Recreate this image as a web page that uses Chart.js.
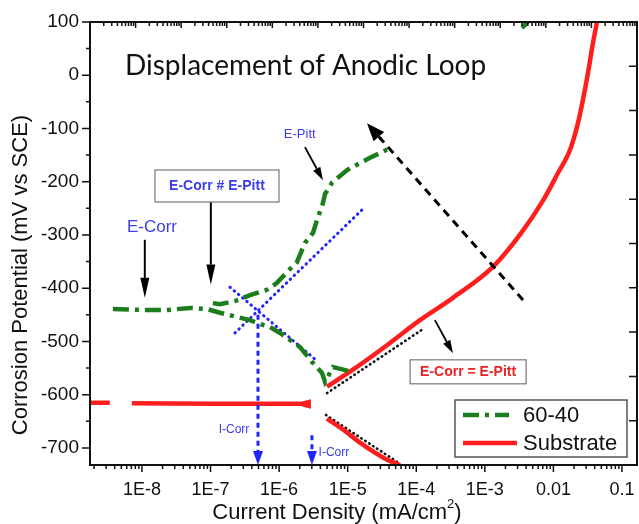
<!DOCTYPE html>
<html>
<head>
<meta charset="utf-8">
<script src="https://cdn.jsdelivr.net/npm/chart.js@4.4.0/dist/chart.umd.min.js"></script>
<style>
  html, body { margin: 0; padding: 0; background: #fff; }
  canvas { display: block; }
</style>
</head>
<body>
<canvas id="polChart" width="639" height="524"></canvas>
<script>
// current density in mA/cm2, potential in mV vs SCE
const alloyCathI = [3.77e-9, 1.1e-8, 2.3e-8, 5e-8, 8.9e-8, 1.37e-7, 3.76e-7, 5.8e-7, 7.4e-7, 1.03e-6, 2.0e-6, 3.0e-6, 4.22e-6, 4.67e-6, 6.1e-6, 1.16e-5];
const alloyCathE = [-439, -441, -441, -437, -439, -446, -460, -469, -473, -484, -510, -538, -559, -576, -548, -557];

const alloyAnodI = [1.08e-7, 1.37e-7, 2.27e-7, 3.76e-7, 6.65e-7, 9.3e-7, 1.54e-6, 1.82e-6, 2.38e-6, 3.12e-6, 3.56e-6, 4.36e-6, 4.67e-6, 5.9e-6, 9.8e-6, 1.51e-5, 2.11e-5, 3.74e-5, 4.43e-5, 1e-3, 3.48e-3, 4.26e-3];
const alloyAnodE = [-428, -430, -424, -413, -403, -390, -360, -351, -315, -296, -272, -240, -223, -202, -178, -165, -155, -140, -140, null, 89, 100];

const subCathFlatI = [1.75e-9, 3.4e-9, 5e-9, 7.1e-9, 1e-7, 1e-6, 2.2e-6, 2.7e-6, 2.7e-6, 2.2e-6];
const subCathFlatE = [-615, -615, null, -616, -617, -617, -617, -614, -621, -618];

const subAnodI = [4.99e-6, 1.19e-5, 3.74e-5, 1.13e-4, 3.43e-4, 1.31e-3, 3.4e-3, 7e-3, 1.15e-2, 1.75e-2, 2.28e-2, 2.7e-2, 3.19e-2, 3.78e-2, 4.32e-2];
const subAnodE = [-585, -553, -507, -460, -418, -360, -296, -236, -185, -140, -90, -46, 4, 61, 100];

const subCathLowI = [4.99e-6, 9.1e-6, 1.51e-5, 3.74e-5, 5.8e-5];
const subCathLowE = [-645, -668, -690, -722, -732];

// Tafel extrapolations
const tafelBlueAnodI = [2.27e-7, 1.67e-5];
const tafelBlueAnodE = [-484, -251];
const tafelBlueCathI = [1.92e-7, 3.69e-6];
const tafelBlueCathE = [-398, -538];
const tafelBlackAnodI = [4.99e-6, 1.21e-4];
const tafelBlackAnodE = [-597, -478];
const tafelBlackCathI = [4.82e-6, 5.24e-5];
const tafelBlackCathE = [-638, -726];

const xTicks = [1e-8, 1e-7, 1e-6, 1e-5, 1e-4, 1e-3, 0.01, 0.1];
const xTickLabels = ['1E-8', '1E-7', '1E-6', '1E-5', '1E-4', '1E-3', '0.01', '0.1'];
const yTicks = [100, 0, -100, -200, -300, -400, -500, -600, -700];

const seriesNames = ['60-40', 'Substrate'];

// annotation anchors in data units [current, potential]
const arrowsBlack = [
  [[1.1e-8, -309], [1.1e-8, -418]],
  [[1.01e-7, -238], [1.01e-7, -393]]
];
const arrowPitt = [[2.38e-6, -135], [4.36e-6, -197]];
const arrowRedLabel = [[1.87e-4, -460], [3.43e-4, -522]];
const arrowLoop = [[3.6e-3, -422], [1.91e-5, -90]];
const arrowsICorr = [
  [[4.92e-7, -450], [4.92e-7, -732]],
  [[3.01e-6, -676], [3.01e-6, -732]]
];

const GREEN = '#1b7d1b';
const RED = '#ff1e1e';
const BLUE = '#2323ff';
const BLUE_TXT = '#3c3cee';
const SANS = '"Liberation Sans", Arial, sans-serif';
const GREEN_DASH = [16, 6, 4, 6];

const pairs = (xs, ys) => xs.map((x, i) => ({ x: x, y: ys[i] }));

function drawArrow(ctx, x1, y1, x2, y2, color, width, headLen, headHalf, dash) {
  const a = Math.atan2(y2 - y1, x2 - x1);
  const bx = x2 - headLen * Math.cos(a), by = y2 - headLen * Math.sin(a);
  ctx.save();
  ctx.strokeStyle = color;
  ctx.lineWidth = width;
  ctx.setLineDash(dash || []);
  ctx.beginPath();
  ctx.moveTo(x1, y1);
  ctx.lineTo(bx, by);
  ctx.stroke();
  ctx.setLineDash([]);
  ctx.fillStyle = color;
  ctx.beginPath();
  ctx.moveTo(x2, y2);
  ctx.lineTo(bx + headHalf * Math.sin(a), by - headHalf * Math.cos(a));
  ctx.lineTo(bx - headHalf * Math.sin(a), by + headHalf * Math.cos(a));
  ctx.closePath();
  ctx.fill();
  ctx.restore();
}

function label(ctx, str, x, y, font, color, align) {
  ctx.save();
  ctx.font = font;
  ctx.fillStyle = color;
  ctx.textAlign = align || 'center';
  ctx.textBaseline = 'middle';
  ctx.fillText(str, x, y);
  ctx.restore();
}

const decorPlugin = {
  id: 'decor',
  afterDatasetsDraw(chart) {
    const ctx = chart.ctx;
    const xs = chart.scales.x, ys = chart.scales.y;
    const P = (p) => [xs.getPixelForValue(p[0]), ys.getPixelForValue(p[1])];
    const area = chart.chartArea;

    // arrows
    arrowsBlack.forEach(a => {
      const s = P(a[0]), e = P(a[1]);
      drawArrow(ctx, s[0], s[1], e[0], e[1], '#000', 2, 20, 4.5);
    });
    let s = P(arrowPitt[0]), e = P(arrowPitt[1]);
    drawArrow(ctx, s[0], s[1], e[0], e[1], '#000', 1.8, 13, 4);
    s = P(arrowRedLabel[0]); e = P(arrowRedLabel[1]);
    drawArrow(ctx, s[0], s[1], e[0], e[1], '#000', 1.8, 13, 4);
    s = P(arrowLoop[0]); e = P(arrowLoop[1]);
    drawArrow(ctx, s[0], s[1], e[0], e[1], '#000', 3, 18, 7, [8, 6]);
    arrowsICorr.forEach(a => {
      const s = P(a[0]), e = P(a[1]);
      drawArrow(ctx, s[0], s[1], e[0], e[1], BLUE, 3, 14, 5, [5, 4]);
    });

    // text labels
    let t = P([5.65e-9, 17]);
    ctx.save();
    ctx.font = '100px Lato, "Open Sans", sans-serif';
    const titleSize = Math.round(100 * 362 / ctx.measureText('Displacement of Anodic Loop').width);
    ctx.restore();
    label(ctx, 'Displacement of Anodic Loop', t[0], t[1], titleSize + 'px Lato, "Open Sans", sans-serif', '#111', 'left');
    t = P([1.4e-8, -285]);
    label(ctx, 'E-Corr', t[0], t[1], '17px ' + SANS, BLUE_TXT);
    t = P([2.0e-6, -112]);
    label(ctx, 'E-Pitt', t[0], t[1], '13px ' + SANS, BLUE_TXT);
    t = P([2.2e-7, -666]);
    label(ctx, 'I-Corr', t[0], t[1], '12px ' + SANS, BLUE_TXT);
    t = P([6.3e-6, -708]);
    label(ctx, 'I-Corr', t[0], t[1], '12px ' + SANS, BLUE_TXT);

    // boxed labels
    t = P([1.24e-7, -208]);
    ctx.save();
    ctx.fillStyle = '#fff';
    ctx.strokeStyle = '#777';
    ctx.lineWidth = 1.2;
    ctx.fillRect(t[0] - 62, t[1] - 16, 124, 32);
    ctx.strokeRect(t[0] - 62, t[1] - 16, 124, 32);
    ctx.restore();
    label(ctx, 'E-Corr # E-Pitt', t[0], t[1], 'bold 14px ' + SANS, BLUE_TXT);

    t = P([5.7e-4, -557]);
    ctx.save();
    ctx.fillStyle = '#fff';
    ctx.strokeStyle = '#777';
    ctx.lineWidth = 1.2;
    ctx.fillRect(t[0] - 58, t[1] - 12, 116, 24);
    ctx.strokeRect(t[0] - 58, t[1] - 12, 116, 24);
    ctx.restore();
    label(ctx, 'E-Corr = E-Pitt', t[0], t[1], 'bold 14px ' + SANS, '#ee2222');

    // legend
    const lx = area.right - 182, ly = area.bottom - 65;
    ctx.save();
    ctx.fillStyle = '#fff';
    ctx.strokeStyle = '#555';
    ctx.lineWidth = 1.5;
    ctx.fillRect(lx, ly, 172, 57);
    ctx.strokeRect(lx, ly, 172, 57);
    ctx.lineWidth = 4.5;
    ctx.strokeStyle = GREEN;
    ctx.setLineDash(GREEN_DASH);
    ctx.beginPath();
    ctx.moveTo(lx + 8, ly + 15);
    ctx.lineTo(lx + 54, ly + 15);
    ctx.stroke();
    ctx.setLineDash([]);
    ctx.strokeStyle = RED;
    ctx.beginPath();
    ctx.moveTo(lx + 8, ly + 43);
    ctx.lineTo(lx + 62, ly + 43);
    ctx.stroke();
    ctx.restore();
    label(ctx, seriesNames[0], lx + 68, ly + 16, '22px ' + SANS, '#111', 'left');
    label(ctx, seriesNames[1], lx + 68, ly + 44, '22px ' + SANS, '#111', 'left');
  },
  afterDraw(chart) {
    const ctx = chart.ctx;
    const a = chart.chartArea;
    const xs = chart.scales.x, ys = chart.scales.y;
    ctx.save();
    ctx.strokeStyle = '#111';
    ctx.lineWidth = 1.5;
    ctx.beginPath();
    // left ticks (outward)
    for (let v = -700; v <= 100; v += 50) {
      const y = ys.getPixelForValue(v);
      const len = v % 100 === 0 ? 8 : 4;
      ctx.moveTo(a.left - len, y); ctx.lineTo(a.left, y);
    }
    // right ticks (inward)
    for (let k = 1; k < 10; k++) {
      const y = a.top + (a.bottom - a.top) * k / 10;
      ctx.moveTo(a.right - 8, y); ctx.lineTo(a.right, y);
    }
    // bottom ticks (outward)
    for (let d = -9; d <= -1; d++) {
      for (let m = 1; m <= 9; m++) {
        const v = m * Math.pow(10, d);
        if (v < xs.min || v > xs.max) continue;
        const x = xs.getPixelForValue(v);
        const len = m === 1 ? 7 : 4;
        ctx.moveTo(x, a.bottom); ctx.lineTo(x, a.bottom + len);
      }
    }
    // top ticks (inward, 12 decades)
    const w = a.right - a.left;
    for (let k = 0; k < 12; k++) {
      for (let m = 1; m <= 9; m++) {
        const x = a.left + (k + Math.log10(m)) / 12 * w;
        const len = m === 1 ? 6 : 4;
        ctx.moveTo(x, a.top); ctx.lineTo(x, a.top + len);
      }
    }
    ctx.stroke();
    // frame
    ctx.lineWidth = 2;
    ctx.strokeRect(a.left, a.top, a.right - a.left, a.bottom - a.top);
    ctx.restore();

    // axis titles
    ctx.save();
    ctx.fillStyle = '#111';
    ctx.font = '22px ' + SANS;
    ctx.textBaseline = 'middle';
    ctx.translate(21, 275);
    ctx.rotate(-Math.PI / 2);
    ctx.textAlign = 'center';
    ctx.fillText('Corrosion Potential (mV vs SCE)', 0, 0);
    ctx.restore();

    ctx.save();
    ctx.fillStyle = '#111';
    ctx.textBaseline = 'middle';
    ctx.textAlign = 'left';
    const p1 = 'Current Density (mA/cm', p2 = ')';
    ctx.font = '13px ' + SANS;
    const wSup = ctx.measureText('2').width;
    ctx.font = '22px ' + SANS;
    const w1 = ctx.measureText(p1).width, w2 = ctx.measureText(p2).width;
    const x0 = 337 - (w1 + wSup + w2) / 2;
    ctx.fillText(p1, x0, 513);
    ctx.font = '13px ' + SANS;
    ctx.fillText('2', x0 + w1, 504);
    ctx.font = '22px ' + SANS;
    ctx.fillText(p2, x0 + w1 + wSup, 513);
    ctx.restore();
  }
};

const lineDs = (data, color, width, dash, cap) => ({
  data: data,
  borderColor: color,
  borderWidth: width,
  borderDash: dash || [],
  borderCapStyle: cap || 'butt',
  pointRadius: 0,
  spanGaps: false,
  tension: 0,
  fill: false
});

new Chart(document.getElementById('polChart'), {
  type: 'line',
  data: {
    datasets: [
      lineDs(pairs(alloyCathI, alloyCathE), GREEN, 4.5, GREEN_DASH),
      lineDs(pairs(alloyAnodI, alloyAnodE), GREEN, 4.5, GREEN_DASH),
      lineDs(pairs(subCathFlatI, subCathFlatE), RED, 4.5),
      Object.assign(lineDs(pairs(subAnodI, subAnodE), RED, 4.5), { cubicInterpolationMode: 'monotone' }),
      Object.assign(lineDs(pairs(subCathLowI, subCathLowE), RED, 4.5), { cubicInterpolationMode: 'monotone' }),
      lineDs(pairs(tafelBlueAnodI, tafelBlueAnodE), BLUE, 3, [0.5, 5], 'round'),
      lineDs(pairs(tafelBlueCathI, tafelBlueCathE), BLUE, 3, [0.5, 5], 'round'),
      lineDs(pairs(tafelBlackAnodI, tafelBlackAnodE), '#111', 2.6, [0.5, 4.2], 'round'),
      lineDs(pairs(tafelBlackCathI, tafelBlackCathE), '#111', 2.6, [0.5, 4.2], 'round')
    ]
  },
  options: {
    responsive: false,
    animation: false,
    events: [],
    layout: { padding: { left: 0, top: 22, right: 2, bottom: 0 } },
    plugins: { legend: { display: false }, tooltip: { enabled: false } },
    scales: {
      x: {
        type: 'logarithmic',
        min: 1.746e-9,
        max: 0.1656,
        grid: { display: false, drawTicks: false },
        border: { display: false },
        afterBuildTicks: (s) => { s.ticks = xTicks.map(v => ({ value: v })); },
        afterFit: (s) => { s.height = 59; s.paddingLeft = 0; s.paddingRight = 0; },
        ticks: {
          autoSkip: false,
          maxRotation: 0,
          padding: 14,
          color: '#111',
          font: { family: SANS, size: 18 },
          callback: (v) => { const i = xTicks.findIndex(t => Math.abs(t - v) / t < 1e-6); return i >= 0 ? xTickLabels[i] : ''; }
        }
      },
      y: {
        type: 'linear',
        min: -732,
        max: 100,
        grid: { display: false, drawTicks: false },
        border: { display: false },
        afterBuildTicks: (s) => { s.ticks = yTicks.map(v => ({ value: v })); },
        afterFit: (s) => { s.width = 90; s.paddingTop = 0; s.paddingBottom = 0; },
        ticks: {
          autoSkip: false,
          padding: 11,
          color: '#111',
          font: { family: SANS, size: 19 }
        }
      }
    }
  },
  plugins: [decorPlugin]
});
</script>
</body>
</html>
